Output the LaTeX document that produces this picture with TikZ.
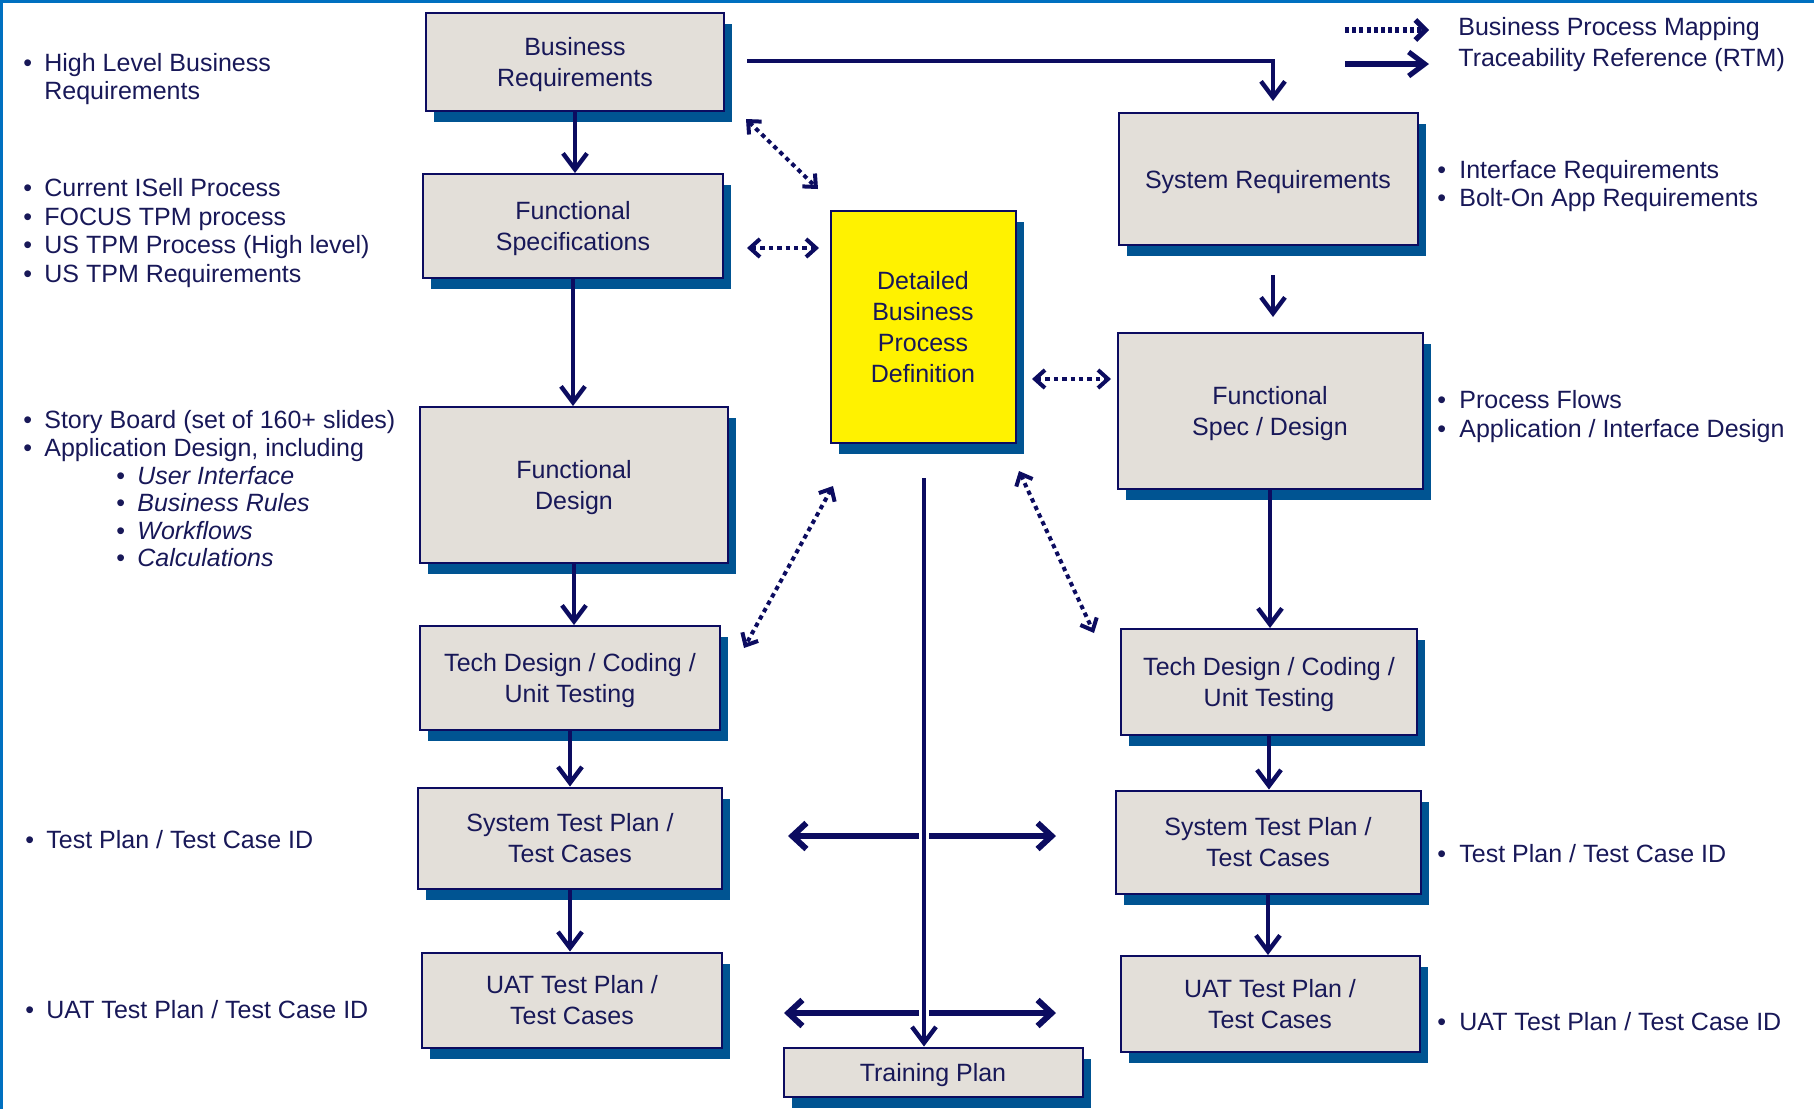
\documentclass[tikz,border=0pt]{standalone}
\usepackage{fontspec}
\setmainfont{Liberation Sans}
\usetikzlibrary{arrows.meta,shadows}

\definecolor{boxfill}{RGB}{227,223,217}
\definecolor{shadowblue}{RGB}{0,84,146}
\definecolor{navy}{RGB}{12,12,96}
\definecolor{inkblue}{RGB}{24,24,88}
\definecolor{framebl}{RGB}{0,112,192}

% bullet markers for the side notes
\newcommand{\bul}{\makebox[10.5bp][l]{•}}
\newcommand{\subbul}{\hspace*{46.5bp}\makebox[10.5bp][l]{•}}
\newcommand{\rbul}{\makebox[9bp][l]{•}}

\begin{document}
\begin{tikzpicture}[x=0.5bp,y=-0.5bp,
  every node/.style={text=inkblue},
  stage/.style={draw=navy, line width=1bp, fill=boxfill, align=center, inner sep=0pt,
    font=\fontsize{12.5bp}{15.5bp}\selectfont, text depth=0pt,
    drop shadow={shadow xshift=4bp, shadow yshift=-5.5bp, fill=shadowblue, opacity=1}},
  keystage/.style={stage, fill=yellow},
  note/.style={align=left, anchor=west, inner sep=0pt,
    font=\fontsize{12.5bp}{14.4bp}\selectfont},
  flow/.style={draw=navy, line width=2.2bp,
    -{Straight Barb[length=8bp,width=12bp]}},
  spread/.style={draw=navy, line width=3bp,
    -{Straight Barb[length=7bp,width=13bp]}},
  mapping/.style={draw=navy, line width=2bp, dash pattern=on 2.2bp off 2bp,
    {Straight Barb[length=5bp,width=9bp]}-{Straight Barb[length=5bp,width=9bp]}},
  mapkey/.style={draw=navy, line width=2.6bp, dash pattern=on 2bp off 1.6bp,
    -{Straight Barb[length=5bp,width=10bp]}},
]
\useasboundingbox (0,0) rectangle (1814,1109);

% frame
\draw[framebl, line width=1.5bp] (0,1.5) -- (1814,1.5);
\draw[framebl, line width=1.5bp] (1.5,0) -- (1.5,1109);

% left column
\node[stage, minimum width=149bp, minimum height=49bp] (BR) at (575,62) {Business\\Requirements};
\node[stage, minimum width=149.5bp, minimum height=52bp] (FS) at (573,226) {Functional\\Specifications};
\node[stage, minimum width=153.5bp, minimum height=78bp] (FD) at (574,485) {Functional\\Design};
\node[stage, minimum width=149.5bp, minimum height=52bp] (TDL) at (570,678) {Tech Design / Coding /\\Unit Testing};
\node[stage, minimum width=152bp, minimum height=50.5bp] (STPL) at (570,838) {System Test Plan /\\Test Cases};
\node[stage, minimum width=149.5bp, minimum height=47.5bp] (UATL) at (572,1000) {UAT Test Plan /\\Test Cases};

% centre
\node[keystage, minimum width=92.5bp, minimum height=116bp] (DBPD) at (923,327) {Detailed\\Business\\Process\\Definition};
\node[stage, minimum width=149.5bp, minimum height=24.5bp] (TP) at (933,1072) {Training Plan};

% right column
\node[stage, minimum width=149.5bp, minimum height=66bp] (SR) at (1268,179) {System Requirements};
\node[stage, minimum width=152.5bp, minimum height=78bp] (FSD) at (1270,411) {Functional\\Spec / Design};
\node[stage, minimum width=148bp, minimum height=53bp] (TDR) at (1269,682) {Tech Design / Coding /\\Unit Testing};
\node[stage, minimum width=152.5bp, minimum height=51.5bp] (STPR) at (1268,842) {System Test Plan /\\Test Cases};
\node[stage, minimum width=149.5bp, minimum height=48bp] (UATR) at (1270,1004) {UAT Test Plan /\\Test Cases};

% side notes, left
\node[note] (nBR) at (23,79) {\bul High Level Business\\\hspace*{10.5bp}Requirements};
\node[note] (nFS) at (23,233) {\bul Current ISell Process\\\bul FOCUS TPM process\\\bul US TPM Process (High level)\\\bul US TPM Requirements};
\node[note, font=\fontsize{12.5bp}{13.8bp}\selectfont] (nFD) at (23,489) {\bul Story Board (set of 160+ slides)\\\bul Application Design, including\\\subbul\textit{User Interface}\\\subbul\textit{Business Rules}\\\subbul\textit{Workflows}\\\subbul\textit{Calculations}};
\node[note] (nSTPL) at (25,840) {\bul Test Plan / Test Case ID};
\node[note] (nUATL) at (25,1010) {\bul UAT Test Plan / Test Case ID};

% side notes, right
\node[note] (nSR) at (1437,186) {\rbul\hspace{2bp}Interface Requirements\\\rbul\hspace{2bp}Bolt-On App Requirements};
\node[note] (nFSD) at (1437,416.5) {\rbul\hspace{2bp}Process Flows\\\rbul\hspace{2bp}Application / Interface Design};
\node[note] (nSTPR) at (1437,854) {\rbul\hspace{2bp}Test Plan / Test Case ID};
\node[note] (nUATR) at (1437,1022) {\rbul\hspace{2bp}UAT Test Plan / Test Case ID};

% legend
\coordinate (k1a) at (1345,30);
\coordinate (k1b) at (1429,30);
\coordinate (k2a) at (1345,64);
\coordinate (k2b) at (1429,64);
\draw[mapkey] (k1a) -- (k1b);
\draw[flow, line width=2.6bp] (k2a) -- (k2b);
\node[note] (kMap) at (1458,29.5) {Business Process Mapping};
\node[note] (kRtm) at (1458,60.5) {Traceability Reference (RTM)};

% traceability flow, left column
\draw[flow] (BR.south) -- (BR.south |- FS.north);
\draw[flow] (FS.south) -- (FS.south |- FD.north);
\draw[flow] (FD.south) -- (FD.south |- TDL.north);
\draw[flow] (TDL.south) -- (TDL.south |- STPL.north);
\draw[flow] (STPL.south) -- (STPL.south |- UATL.north);

% traceability flow, right column
\draw[flow, shorten >=5.5bp] ([xshift=11bp,yshift=0.5bp]BR.east) -| ([xshift=2.5bp]SR.north);
\draw[flow, shorten <=14.5bp, shorten >=7.5bp] ([xshift=2.5bp]SR.south) -- ([xshift=2.5bp]SR.south |- FSD.north);
\draw[flow] (FSD.south) -- (FSD.south |- TDR.north);
\draw[flow] (TDR.south) -- (TDR.south |- STPR.north);
\draw[flow] (STPR.south) -- (STPR.south |- UATR.north);

% process mapping links
\coordinate (mBRa) at (746,119);
\coordinate (mBRb) at (818,189);
\coordinate (mFSa) at (747,248);
\coordinate (mFSb) at (819,248);
\coordinate (mFDa) at (1032,379);
\coordinate (mFDb) at (1111,379);
\coordinate (mTLa) at (833,486);
\coordinate (mTLb) at (744,648);
\coordinate (mTRa) at (1019,471);
\coordinate (mTRb) at (1094,633);
\draw[mapping] (mBRa) -- (mBRb);
\draw[mapping] (mFSa) -- (mFSb);
\draw[mapping] (mFDa) -- (mFDb);
\draw[mapping] (mTLa) -- (mTLb);
\draw[mapping] (mTRa) -- (mTRb);

% training spine and test-plan spreads
\coordinate (spine) at (924,478);
\draw[flow] (spine) -- (spine |- TP.north);
\coordinate (s1l) at (788,836);
\coordinate (s1a) at (919,836);
\coordinate (s1b) at (929,836);
\coordinate (s1r) at (1056,836);
\coordinate (s2l) at (784,1013);
\coordinate (s2a) at (919,1013);
\coordinate (s2b) at (929,1013);
\coordinate (s2r) at (1056,1013);
\draw[spread] (s1a) -- (s1l);
\draw[spread] (s1b) -- (s1r);
\draw[spread] (s2a) -- (s2l);
\draw[spread] (s2b) -- (s2r);
\end{tikzpicture}
\end{document}
